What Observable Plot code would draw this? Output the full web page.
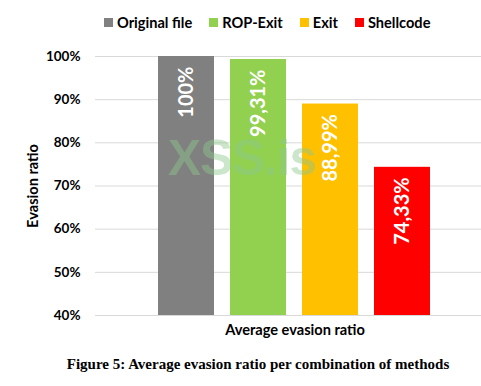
<!DOCTYPE html>
<html>
<head>
<meta charset="utf-8">
<script src="https://cdn.jsdelivr.net/npm/d3@7"></script>
<script src="https://cdn.jsdelivr.net/npm/@observablehq/plot@0.6"></script>
<style>
  html, body { margin: 0; padding: 0; background: #fff; }
  #wrap { position: relative; width: 481px; height: 386px; overflow: hidden; font-family: Lato, "Open Sans", sans-serif; }
  #legend { height: 44px; display: flex; align-items: center; justify-content: flex-start; padding-left: 104px; box-sizing: border-box; font-weight: bold; font-size: 14.6px; color: #000; }
  #legend .item { display: flex; align-items: center; margin-right: 17px; }
  #legend .sw { width: 9px; height: 9px; margin-right: 4px; }
  #caption { position: absolute; left: 0; width: 516px; top: 356px; text-align: center; font-family: "Liberation Serif", "Times New Roman", serif; font-weight: bold; font-size: 15px; color: #000; }
  #wm { position: absolute; left: 168px; top: 133px; line-height: 1; font-family: "Liberation Sans", Arial, sans-serif; font-weight: bold; font-size: 49.5px; letter-spacing: -1px; color: rgba(140, 200, 140, 0.45); pointer-events: none; }
</style>
</head>
<body>
<div id="wrap">
  <div id="legend"></div>
  <div id="chart"></div>
  <div id="caption"></div>
  <div id="wm">XSS.is</div>
</div>
<script>
const series = ["Original file", "ROP-Exit", "Exit", "Shellcode"];
const values = [100, 99.31, 88.99, 74.33];
const colors = ["#808080", "#92d050", "#ffc000", "#ff0000"];
const yTicks = [40, 50, 60, 70, 80, 90, 100];
const xLabel = "Average evasion ratio";
const yLabel = "Evasion ratio";
const captionText = "Figure 5: Average evasion ratio per combination of methods";

const data = series.map((s, i) => ({series: s, value: values[i]}));
const fmt = v => (Number.isInteger(v) ? String(v) : v.toFixed(2).replace(".", ",")) + "%";

// legend
const legend = document.getElementById("legend");
series.forEach((s, i) => {
  const it = document.createElement("div");
  it.className = "item";
  const sw = document.createElement("span");
  sw.className = "sw";
  sw.style.background = colors[i];
  const t = document.createElement("span");
  t.textContent = s;
  it.appendChild(sw); it.appendChild(t);
  legend.appendChild(it);
});
document.getElementById("caption").textContent = captionText;

const chart = Plot.plot({
  width: 481,
  height: 310,
  marginLeft: 95,
  marginRight: -13,
  marginTop: 12,
  marginBottom: 39,
  style: {fontFamily: "Lato, 'Open Sans', sans-serif", overflow: "visible"},
  x: {domain: series, paddingInner: 0.216, paddingOuter: 0.853, axis: null},
  y: {domain: [40, 100], ticks: yTicks},
  color: {domain: series, range: colors},
  marks: [
    Plot.ruleY(yTicks, {stroke: "#d9d9d9", strokeWidth: 1}),
    Plot.axisY({ticks: yTicks, tickSize: 0, tickPadding: 15, tickFormat: d => d + "%", fontSize: 13.5, fontWeight: "bold", fill: "#000", label: null}),
    Plot.barY(data, {x: "series", y1: 40, y2: "value", fill: "series"}),
    Plot.text(data, {x: "series", y: "value", text: d => fmt(d.value), rotate: -90, textAnchor: "end", dy: 10, fill: "white", fontSize: 20, fontWeight: "bold"}),
    Plot.text([yLabel], {frameAnchor: "left", textAnchor: "middle", rotate: -90, dx: -62, fontSize: 14.6, fontWeight: "bold", fill: "#000"}),
    Plot.text([xLabel], {frameAnchor: "bottom", dy: 19, fontSize: 14.6, fontWeight: "bold", fill: "#000"})
  ]
});
document.getElementById("chart").appendChild(chart);
</script>
</body>
</html>
